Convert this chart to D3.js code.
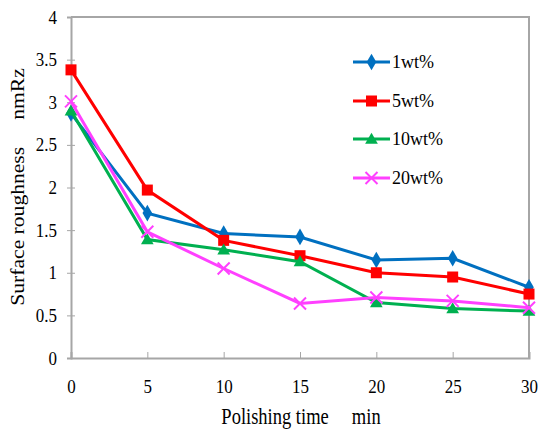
<!DOCTYPE html>
<html>
<head>
<meta charset="utf-8">
<script src="https://cdn.jsdelivr.net/npm/d3@7"></script>
<style>
  body { margin: 0; background: #fff; }
  svg text { font-family: "Liberation Serif", "Times New Roman", serif; fill: #000; }
</style>
</head>
<body>
<div id="chart"></div>
<script>
//// data
var times = [0, 5, 10, 15, 20, 25, 30];
var seriesNames = ["1wt%", "5wt%", "10wt%", "20wt%"];
var wt1 = [2.87, 1.70, 1.46, 1.42, 1.15, 1.17, 0.83];
var wt5 = [3.38, 1.97, 1.38, 1.20, 1.00, 0.95, 0.75];
var wt10 = [2.90, 1.39, 1.27, 1.13, 0.65, 0.58, 0.55];
var wt20 = [3.01, 1.48, 1.05, 0.64, 0.71, 0.67, 0.59];
var yTicks = [0, 0.5, 1, 1.5, 2, 2.5, 3, 3.5, 4];
var xTicks = [0, 5, 10, 15, 20, 25, 30];

var series = [
  {name: seriesNames[0], values: wt1, color: "#0070C0", shape: "diamond"},
  {name: seriesNames[1], values: wt5, color: "#FF0000", shape: "square"},
  {name: seriesNames[2], values: wt10, color: "#00B050", shape: "triangle"},
  {name: seriesNames[3], values: wt20, color: "#FF40FF", shape: "cross"}
];

//// chart
var W = 539, H = 429;
var margin = {top: 17, right: 10, bottom: 71, left: 71};
var serif = "'Liberation Serif', 'Times New Roman', serif";

var svg = d3.select("#chart").append("svg")
    .attr("width", W)
    .attr("height", H);

var xScale = d3.scaleLinear().domain([0, 30]).range([margin.left, 529]);
var yScale = d3.scaleLinear().domain([0, 4]).range([358, margin.top]);

// plot frame (top + right)
svg.append("path")
    .attr("d", "M" + xScale(0) + "," + yScale(4) + "H" + xScale(30) + "V" + yScale(0))
    .attr("fill", "none")
    .attr("stroke", "#a6a6a6")
    .attr("stroke-width", 2);

// y axis
var yAxis = svg.append("g")
    .attr("transform", "translate(" + xScale(0) + ",0)")
    .call(d3.axisLeft(yScale).tickValues(yTicks).tickSize(4).tickPadding(10)
      .tickFormat(function(d){ return d; }));
yAxis.attr("font-family", serif).attr("font-size", 17);
yAxis.select(".domain").attr("stroke", "#a6a6a6").attr("stroke-width", 2);
yAxis.selectAll(".tick line").attr("stroke", "#a6a6a6").attr("x2", 4).attr("x1", -4);
yAxis.selectAll(".tick text")
    .attr("dy", null)
    .attr("transform", "translate(0,6) scale(1,1.15)");

// x axis
var xAxis = svg.append("g")
    .attr("transform", "translate(0," + yScale(0) + ")")
    .call(d3.axisBottom(xScale).tickValues(xTicks).tickSize(-6).tickPadding(0));
xAxis.attr("font-family", serif).attr("font-size", 17);
xAxis.select(".domain").attr("stroke", "#a6a6a6").attr("stroke-width", 2);
xAxis.selectAll(".tick line").attr("stroke", "#a6a6a6");
xAxis.selectAll(".tick text")
    .attr("y", 0).attr("dy", null)
    .attr("transform", "translate(0,35) scale(1,1.15)");

// axis titles
svg.append("text")
    .attr("transform", "translate(301,424) scale(1,1.25)")
    .attr("text-anchor", "middle")
    .style("font-size", "18.5px")
    .text("Polishing time\u00a0\u00a0\u00a0\u00a0 min");

svg.append("text")
    .attr("transform", "translate(24,187) rotate(-90) scale(1.2,1)")
    .attr("text-anchor", "middle")
    .style("font-size", "18px")
    .text("Surface roughness\u00a0\u00a0\u00a0\u00a0 nmRz");

//// lines
var line = d3.line()
    .x(function(d, i){ return xScale(times[i]); })
    .y(function(d){ return yScale(d); });

function marker(g, shape, color, cx, cy) {
  if (shape === "diamond") {
    g.append("path").attr("d", d3.symbol(d3.symbolDiamond, 80)())
      .attr("transform", "translate(" + cx + "," + cy + ")").attr("fill", color);
  } else if (shape === "square") {
    g.append("rect").attr("x", cx - 5.5).attr("y", cy - 5.5)
      .attr("width", 11).attr("height", 11).attr("fill", color);
  } else if (shape === "triangle") {
    g.append("path").attr("d", d3.symbol(d3.symbolTriangle, 70)())
      .attr("transform", "translate(" + cx + "," + (cy + 1) + ")").attr("fill", color);
  } else {
    g.append("path").attr("d", "M-6,-6L6,6M-6,6L6,-6")
      .attr("transform", "translate(" + cx + "," + cy + ")")
      .attr("stroke", color).attr("stroke-width", 2).attr("fill", "none");
  }
}

series.forEach(function(s) {
  var g = svg.append("g");
  g.append("path")
      .datum(s.values)
      .attr("d", line)
      .attr("fill", "none")
      .attr("stroke", s.color)
      .attr("stroke-width", 3);
  s.values.forEach(function(v, i) {
    marker(g, s.shape, s.color, xScale(times[i]), yScale(v));
  });
});

//// legend
var legendY = [62, 101, 139, 178];
series.forEach(function(s, i) {
  var g = svg.append("g");
  g.append("line")
      .attr("x1", 353).attr("x2", 390)
      .attr("y1", legendY[i]).attr("y2", legendY[i])
      .attr("stroke", s.color).attr("stroke-width", 3);
  marker(g, s.shape, s.color, 371.5, legendY[i]);
  g.append("text")
      .attr("x", 392)
      .attr("y", legendY[i] + 6)
      .style("font-size", "18px")
      .text(s.name);
});
</script>
</body>
</html>
